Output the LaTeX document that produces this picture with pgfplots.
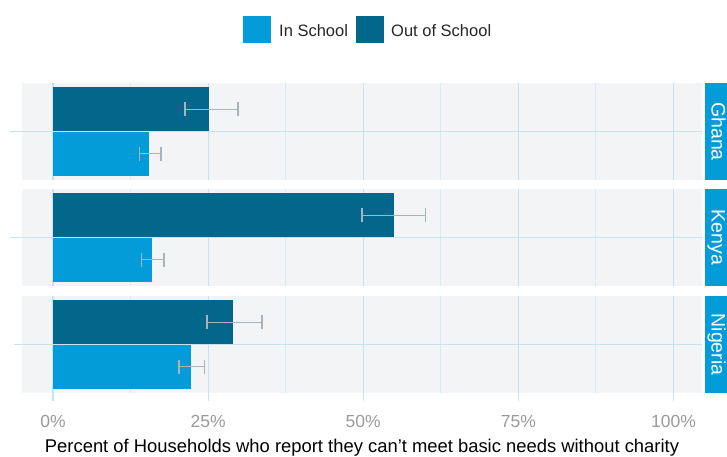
\documentclass[border=0pt]{standalone}
\usepackage{pgfplots}
\pgfplotsset{compat=1.18}
\usetikzlibrary{calc}
\usepackage{fontspec}
\setmainfont{Liberation Sans}
\definecolor{inschool}{HTML}{049CD8}
\definecolor{outschool}{HTML}{03678C}
\definecolor{panelbg}{HTML}{F2F4F6}
\definecolor{gridblue}{HTML}{C8E2F1}
\definecolor{gridminor}{HTML}{DAEBF5}
\definecolor{errgray}{HTML}{A6B5BC}
\definecolor{ticklab}{HTML}{9A9A9A}
\pgfplotsset{
  panel/.style={
    scale only axis, width=680pt, height=97pt,
    xmin=-5, xmax=104.6, ymin=-0.55, ymax=0.55,
    axis background/.style={fill=panelbg},
    axis line style={draw=none},
    xtick={0,25,50,75,100},
    minor xtick={12.5,37.5,62.5,87.5},
    ytick={0}, yticklabels={},
    xmajorgrids, xminorgrids, ymajorgrids,
    major grid style={draw=gridblue, line width=1.1pt},
    minor grid style={draw=gridminor, line width=1.1pt},
    tick align=outside,
    ytick pos=left, xtick pos=bottom,
    major tick length=12pt, minor tick length=0pt,
    ytick style={draw=gridblue, line width=1.1pt},
    xtick style={draw=none},
    xticklabels={},
    xbar, bar width=44pt, bar shift=0pt,
  },
  errs/.style={
    error bars/.cd, x dir=both, x explicit,
    error bar style={draw=errgray, line width=1.5pt},
    error mark options={draw=errgray, mark size=7pt, line width=1.5pt, rotate=90},
  },
}
\begin{document}
\begin{tikzpicture}[x=1pt,y=1pt]
\useasboundingbox (0,0) rectangle (727,-457);
\clip (0,0) rectangle (727,-457);
% legend
\fill[inschool] (243,-16) rectangle (271,-43);
\node[anchor=west, font=\fontsize{16.5}{18}\selectfont, text=black!85, inner sep=0pt] at (279,-30.5) {In School};
\fill[outschool] (356,-16) rectangle (384,-43);
\node[anchor=west, font=\fontsize{16.5}{18}\selectfont, text=black!85, inner sep=0pt] at (391,-30.5) {Out of School};

% Ghana
\begin{axis}[panel, name=g, at={(22pt,-180pt)}, anchor=south west]
\addplot[fill=outschool, draw=none, errs] coordinates {(25.2,0.25) += (4.6,0) -= (3.9,0)};
\addplot[fill=inschool, draw=none, errs] coordinates {(15.5,-0.25) += (1.9,0) -= (1.6,0)};
\end{axis}
% Kenya
\begin{axis}[panel, name=k, at={(22pt,-286pt)}, anchor=south west]
\addplot[fill=outschool, draw=none, errs] coordinates {(54.9,0.25) += (5.1,0) -= (5.1,0)};
\addplot[fill=inschool, draw=none, errs] coordinates {(16.0,-0.25) += (1.9,0) -= (1.7,0)};
\end{axis}
% Nigeria
\begin{axis}[panel, name=n, at={(22pt,-393pt)}, anchor=south west,
  xticklabels={0\%,25\%,50\%,75\%,100\%},
  xtick style={draw=gridblue, line width=1.1pt}, major tick length=8pt,
  xticklabel style={text=ticklab, font=\fontsize{17.5}{19}\selectfont, yshift=-11pt},
  /pgf/number format/assume math mode=true,
  xlabel={Percent of Households who report they can't meet basic needs without charity},
  xlabel style={at={(axis description cs:0.5,0)}, anchor=base, yshift=-59pt,
    font=\fontsize{18.4}{20}\selectfont, text=black},
  ]
\addplot[fill=outschool, draw=none, errs] coordinates {(29.0,0.25) += (4.7,0) -= (4.2,0)};
\addplot[fill=inschool, draw=none, errs] coordinates {(22.2,-0.25) += (2.2,0) -= (1.9,0)};
\end{axis}
% strips
\foreach \nm/\lab in {g/Ghana,k/Kenya,n/Nigeria}{
  \fill[inschool] ([xshift=3pt]\nm.south east) rectangle ([xshift=40pt]\nm.north east);
  \node[rotate=-90, anchor=base, text=white, font=\fontsize{19.5}{21}\selectfont, inner sep=0pt]
    at ([xshift=9.5pt]$(\nm.south east)!0.5!(\nm.north east)$) {\lab};
}
\end{tikzpicture}
\end{document}
